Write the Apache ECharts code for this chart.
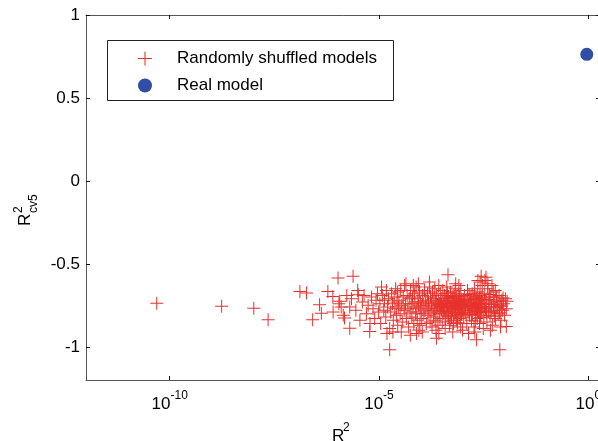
<!DOCTYPE html>
<html>
<head>
<meta charset="utf-8">
<script src="https://cdn.jsdelivr.net/npm/echarts@6/dist/echarts.min.js"></script>
<style>
html,body{margin:0;padding:0;background:#fff;}
#chart{width:598px;height:441px;}
</style>
</head>
<body>
<div id="chart"></div>
<script>
// ---- data ----
const seriesNames = ['Randomly shuffled models', 'Real model'];

// Randomly shuffled models: [R^2, R^2_cv5]
const shuffledModels = [
  [4.9e-11,-0.738],[1.74e-9,-0.756],[1.02e-8,-0.767],[2.24e-8,-0.837],
  [1.29e-7,-0.666],[1.86e-7,-0.676],[2.6e-7,-0.837],[3.8e-7,-0.746],[4.2e-7,-0.797],
  [6.0e-7,-0.666],[7.9e-7,-0.696],[1.05e-6,-0.585],[1.15e-6,-0.726],[1.5e-6,-0.827],
  [2.0e-6,-0.888],[2.4e-6,-0.575],[3.2e-6,-0.686],[6.0e-6,-0.908],[1.8e-5,-1.018],
  [8e-7,-0.79],[1.1e-6,-0.74],[1.4e-6,-0.81],[1.7e-6,-0.69],[1.25e-6,-0.76],[2.0e-6,-0.76],
  [2.2e-6,-0.71],[2.8e-6,-0.78],[3.1e-6,-0.66],[3.5e-6,-0.84],[4.0e-6,-0.73],[4.4e-6,-0.69],
  [5.0e-6,-0.80],[5.5e-6,-0.75],[6.1e-6,-0.86],[6.6e-6,-0.70],[7.2e-6,-0.77],[7.9e-6,-0.83],
  [8.5e-6,-0.72],[9.2e-6,-0.68],[9.8e-6,-0.79],
  [1.05e-5,-0.74],[1.1e-5,-0.86],[1.2e-5,-0.69],[1.3e-5,-0.78],[1.35e-5,-0.72],[1.45e-5,-0.82],
  [1.5e-5,-0.66],[1.6e-5,-0.76],[1.7e-5,-0.71],[1.8e-5,-0.89],[1.9e-5,-0.79],[2.0e-5,-0.68],
  [2.1e-5,-0.74],[2.2e-5,-0.84],[2.3e-5,-0.70],[2.4e-5,-0.77],[2.5e-5,-0.65],[2.6e-5,-0.81],
  [2.7e-5,-0.73],[2.8e-5,-0.87],[2.9e-5,-0.76],[1.15e-5,-0.64],[1.55e-5,-0.92],[2.15e-5,-0.91],
  [2.75e-5,-0.67],
  [3.0e-5,-0.72],[3.2e-5,-0.80],[3.3e-5,-0.66],[3.5e-5,-0.75],[3.6e-5,-0.85],[3.8e-5,-0.70],
  [4.0e-5,-0.78],[4.1e-5,-0.63],[4.3e-5,-0.74],[4.5e-5,-0.83],[4.7e-5,-0.69],[4.9e-5,-0.77],
  [5.1e-5,-0.88],[5.3e-5,-0.71],[5.5e-5,-0.79],[5.7e-5,-0.66],[5.9e-5,-0.74],[6.1e-5,-0.82],
  [6.3e-5,-0.70],[6.5e-5,-0.76],[6.8e-5,-0.86],[7.0e-5,-0.68],[7.2e-5,-0.73],[7.5e-5,-0.80],
  [7.7e-5,-0.64],[8.0e-5,-0.77],[8.2e-5,-0.84],[8.5e-5,-0.71],[8.8e-5,-0.75],[9.0e-5,-0.90],
  [9.3e-5,-0.67],[9.6e-5,-0.79],[9.9e-5,-0.73],[3.4e-5,-0.91],[4.4e-5,-0.62],[5.6e-5,-0.93],
  [6.6e-5,-0.63],[7.9e-5,-0.92],[8.7e-5,-0.62],[9.5e-5,-0.87],
  [1.02e-4,-0.76],[1.05e-4,-0.83],[1.1e-4,-0.69],[1.13e-4,-0.74],[1.18e-4,-0.80],[1.22e-4,-0.66],
  [1.26e-4,-0.78],[1.3e-4,-0.72],[1.35e-4,-0.86],[1.4e-4,-0.75],[1.44e-4,-0.68],[1.48e-4,-0.81],
  [1.52e-4,-0.73],[1.57e-4,-0.77],[1.62e-4,-0.64],[1.66e-4,-0.85],[1.7e-4,-0.70],[1.75e-4,-0.79],
  [1.8e-4,-0.74],[1.85e-4,-0.88],[1.9e-4,-0.67],[1.95e-4,-0.76],[2.0e-4,-0.82],[2.05e-4,-0.71],
  [2.1e-4,-0.78],[2.15e-4,-0.65],[2.2e-4,-0.84],[2.26e-4,-0.73],[2.32e-4,-0.77],[2.38e-4,-0.69],
  [2.44e-4,-0.80],[2.5e-4,-0.75],[2.56e-4,-0.87],[2.62e-4,-0.72],[2.68e-4,-0.63],[2.74e-4,-0.79],
  [2.8e-4,-0.74],[2.86e-4,-0.83],[2.92e-4,-0.68],[2.98e-4,-0.76],[1.08e-4,-0.91],[1.6e-4,-0.61],
  [2.3e-4,-0.90],[2.35e-4,-0.948],[2.7e-4,-0.92],
  [3.05e-4,-0.71],[3.15e-4,-0.78],[3.25e-4,-0.85],[3.35e-4,-0.66],[3.45e-4,-0.74],[3.55e-4,-0.80],
  [3.65e-4,-0.69],[3.75e-4,-0.76],[3.85e-4,-0.83],[3.95e-4,-0.72],[4.05e-4,-0.77],[4.15e-4,-0.64],
  [4.25e-4,-0.81],[4.35e-4,-0.74],[4.45e-4,-0.565],[4.55e-4,-0.70],[4.65e-4,-0.79],[4.8e-4,-0.87],
  [4.95e-4,-0.73],[5.1e-4,-0.67],[5.25e-4,-0.76],[5.4e-4,-0.82],[5.55e-4,-0.71],[5.7e-4,-0.78],
  [5.85e-4,-0.74],[6.0e-4,-0.86],[6.15e-4,-0.69],[6.3e-4,-0.75],[6.45e-4,-0.80],[6.6e-4,-0.65],
  [6.75e-4,-0.77],[6.9e-4,-0.72],[7.05e-4,-0.84],[7.2e-4,-0.70],[7.4e-4,-0.76],[7.6e-4,-0.79],
  [7.8e-4,-0.68],[8.0e-4,-0.74],[8.2e-4,-0.83],[8.4e-4,-0.71],[8.6e-4,-0.77],[8.8e-4,-0.88],
  [9.0e-4,-0.66],[9.2e-4,-0.75],[9.4e-4,-0.80],[9.6e-4,-0.73],[9.8e-4,-0.78],
  [3.3e-4,-0.76],[4.0e-4,-0.73],[4.7e-4,-0.75],[5.3e-4,-0.79],[6.2e-4,-0.77],[7.0e-4,-0.74],
  [7.7e-4,-0.81],[8.5e-4,-0.76],[9.3e-4,-0.72],[3.8e-4,-0.89],[5.8e-4,-0.91],[8.1e-4,-0.63],
  [6.8e-4,-0.62],[9.9e-4,-0.90],
  [3.1e-4,-0.745],[3.6e-4,-0.785],[4.2e-4,-0.705],[4.6e-4,-0.815],[5.0e-4,-0.755],[5.6e-4,-0.695],
  [6.1e-4,-0.735],[6.7e-4,-0.795],[7.3e-4,-0.725],[7.9e-4,-0.765],[8.3e-4,-0.695],[8.9e-4,-0.805],
  [9.5e-4,-0.745],[5.2e-4,-0.845],[7.5e-4,-0.855],[4.3e-4,-0.675],[6.4e-4,-0.705],[8.7e-4,-0.735],
  [1.02e-3,-0.75],[1.06e-3,-0.82],[1.1e-3,-0.69],[1.15e-3,-0.77],[1.2e-3,-0.73],[1.25e-3,-0.86],
  [1.3e-3,-0.66],[1.35e-3,-0.79],[1.4e-3,-0.74],[1.45e-3,-0.81],[1.5e-3,-0.70],[1.56e-3,-0.76],
  [1.62e-3,-0.84],[1.68e-3,-0.68],[1.74e-3,-0.78],[1.8e-3,-0.73],[1.86e-3,-0.88],[1.92e-3,-0.65],
  [1.98e-3,-0.75],[2.04e-3,-0.80],[2.1e-3,-0.71],[2.16e-3,-0.77],[2.22e-3,-0.83],[2.28e-3,-0.67],
  [2.34e-3,-0.74],[2.4e-3,-0.79],[2.46e-3,-0.72],[2.52e-3,-0.86],[2.58e-3,-0.69],[2.64e-3,-0.76],
  [2.7e-3,-0.81],[2.76e-3,-0.575],[2.82e-3,-0.73],[2.88e-3,-0.78],[2.94e-3,-0.63],[2.15e-3,-0.958],
  [1.12e-3,-0.76],[1.28e-3,-0.72],[1.48e-3,-0.78],[1.66e-3,-0.75],[1.84e-3,-0.71],[2.02e-3,-0.77],
  [2.2e-3,-0.74],[2.38e-3,-0.76],[2.56e-3,-0.79],[2.74e-3,-0.70],[1.38e-3,-0.92],[1.95e-3,-0.91],
  [2.6e-3,-0.61],[2.3e-3,-0.60],
  [1.04e-3,-0.715],[1.18e-3,-0.795],[1.33e-3,-0.755],[1.52e-3,-0.735],[1.7e-3,-0.805],[1.9e-3,-0.765],
  [2.07e-3,-0.695],[2.25e-3,-0.785],[2.43e-3,-0.745],[2.62e-3,-0.825],[2.8e-3,-0.765],[1.6e-3,-0.715],
  [2.0e-3,-0.845],[2.5e-3,-0.705],[1.42e-3,-0.685],[2.9e-3,-0.705],
  [3.05e-3,-0.74],[3.2e-3,-0.82],[3.35e-3,-0.68],[3.5e-3,-0.77],[3.65e-3,-0.72],[3.8e-3,-0.85],
  [3.95e-3,-0.65],[4.1e-3,-0.79],[4.3e-3,-0.74],[4.5e-3,-0.81],[4.7e-3,-0.70],[4.9e-3,-0.76],
  [5.1e-3,-0.87],[5.35e-3,-0.67],[5.6e-3,-0.78],[5.85e-3,-0.73],[6.1e-3,-0.83],[6.4e-3,-0.70],
  [6.7e-3,-0.76],[7.0e-3,-0.80],[7.4e-3,-0.69],[7.8e-3,-0.75],[8.2e-3,-0.84],[8.6e-3,-0.72],
  [9.0e-3,-0.78],[9.5e-3,-0.74],[1.0e-2,-0.81],[1.05e-2,-0.71],[1.1e-2,-0.77],[1.15e-2,-0.726],
  [1.1e-2,-0.877],[7.7e-3,-1.018],[3.4e-3,-0.60],[4.0e-3,-0.62],[4.6e-3,-0.90],[3.6e-3,-0.58],
  [6.0e-3,-0.66],[8.0e-3,-0.88],[5.0e-3,-0.63],[3.1e-3,-0.89],
  [3.3e-3,-0.755],[3.7e-3,-0.795],[4.2e-3,-0.715],[4.8e-3,-0.785],[5.4e-3,-0.745],[6.2e-3,-0.765],
  [6.9e-3,-0.725],[7.6e-3,-0.795],[8.4e-3,-0.755],[9.2e-3,-0.705],[4.4e-3,-0.685],[5.7e-3,-0.815]
];

// Real model: [R^2, R^2_cv5]
const realModel = [[0.92, 0.763]];

// tick labels
const xTickValues = [1e-10, 1e-5, 1];
const xTickExponents = ['-10', '-5', '0'];
const yTickValues = [-1, -0.5, 0, 0.5, 1];
const yTickLabels = ['-1', '-0.5', '0', '0.5', '1'];

// ---- chart ----
const FONT = '"Liberation Sans", Arial, Helvetica, sans-serif';
const chart = echarts.init(document.getElementById('chart'), null, {renderer: 'canvas'});

const plusPath = 'path://M0,6H13V7H0Z M6,0H7V13H6Z';

function xLabelFmt(v) {
  let idx = 0, best = Infinity;
  xTickValues.forEach((t, i) => {
    const d = Math.abs(Math.log10(t) - Math.log10(v));
    if (d < best) { best = d; idx = i; }
  });
  return '{b|10}{s|' + xTickExponents[idx] + '}';
}
function yLabelFmt(v) {
  let idx = 0, best = Infinity;
  yTickValues.forEach((t, i) => {
    const d = Math.abs(t - v);
    if (d < best) { best = d; idx = i; }
  });
  return yTickLabels[idx];
}

const axisLineStyle = {color: '#555', width: 1};
const tickStyle = {color: '#111', width: 1};

const xMin = 1e-12, xMax = Math.pow(10, 0.28);
const yMin = -1.2, yMax = 1;

const option = {
  animation: false,
  backgroundColor: '#fff',
  grid: {left: 86, top: 15, width: 514, height: 365, containLabel: false, outerBoundsMode: 'none'},
  xAxis: [
    {
      type: 'log', logBase: 10, min: xMin, max: xMax, position: 'bottom',
      axisLine: {show: true, onZero: false, lineStyle: axisLineStyle},
      axisTick: {show: true, inside: true, length: 4, lineStyle: tickStyle, customValues: xTickValues},
      minorTick: {show: false},
      splitLine: {show: false},
      axisLabel: {
        show: true, customValues: xTickValues, margin: 16,
        formatter: xLabelFmt,
        rich: {
          b: {fontSize: 17, fontFamily: FONT, color: '#000', verticalAlign: 'bottom', lineHeight: 17},
          s: {fontSize: 12, fontFamily: FONT, color: '#000', verticalAlign: 'bottom', lineHeight: 12, padding: [0, 0, 11, 0]}
        }
      }
    },
    {
      type: 'log', logBase: 10, min: xMin, max: xMax, position: 'top',
      axisLine: {show: true, onZero: false, lineStyle: axisLineStyle},
      axisTick: {show: true, inside: true, length: 4, lineStyle: tickStyle, customValues: xTickValues},
      minorTick: {show: false},
      splitLine: {show: false},
      axisLabel: {show: false}
    }
  ],
  yAxis: [
    {
      type: 'value', min: yMin, max: yMax, position: 'left',
      axisLine: {show: true, onZero: false, lineStyle: axisLineStyle},
      axisTick: {show: true, inside: true, length: 4, lineStyle: tickStyle, customValues: yTickValues},
      splitLine: {show: false},
      axisLabel: {show: true, customValues: yTickValues, formatter: yLabelFmt, margin: 6,
        fontSize: 17, fontFamily: FONT, color: '#000'}
    },
    {
      type: 'value', min: yMin, max: yMax, position: 'right',
      axisLine: {show: true, onZero: false, lineStyle: axisLineStyle},
      axisTick: {show: true, inside: true, length: 4, lineStyle: tickStyle, customValues: yTickValues},
      splitLine: {show: false},
      axisLabel: {show: false}
    }
  ],
  legend: {
    show: true, orient: 'vertical', left: 138, top: 50,
    itemWidth: 14, itemHeight: 14, itemGap: 10, padding: 0,
    data: seriesNames,
    textStyle: {fontSize: 17, fontFamily: FONT, color: '#000', padding: [0, 0, 0, 20]},
    selectedMode: false
  },
  graphic: [
    {type: 'rect', shape: {x: 107.5, y: 40.5, width: 286, height: 60}, style: {fill: 'none', stroke: '#222', lineWidth: 1}, z: 10},
    // x axis name R^2
    {type: 'text', x: 332, y: 436, style: {text: 'R', font: '17px ' + FONT, fill: '#000', verticalAlign: 'middle', align: 'left'}},
    {type: 'text', x: 343, y: 428, style: {text: '2', font: '12px ' + FONT, fill: '#000', verticalAlign: 'middle', align: 'left'}},
    // y axis name R^2_cv5 (rotated)
    {
      type: 'group', x: 25, y: 226, rotation: Math.PI / 2,
      children: [
        {type: 'text', x: 0, y: 0, style: {text: 'R', font: '17px ' + FONT, fill: '#000', verticalAlign: 'middle', align: 'left'}},
        {type: 'text', x: 13, y: -6, style: {text: '2', font: '12px ' + FONT, fill: '#000', verticalAlign: 'middle', align: 'left'}},
        {type: 'text', x: 13, y: 9, style: {text: 'cv5', font: '12px ' + FONT, fill: '#000', verticalAlign: 'middle', align: 'left'}}
      ]
    }
  ],
  series: [
    {
      name: seriesNames[0], type: 'scatter', xAxisIndex: 0, yAxisIndex: 0,
      symbol: plusPath, symbolSize: 13,
      itemStyle: {color: '#e8322d', opacity: 1},
      data: shuffledModels, z: 2
    },
    {
      name: seriesNames[1], type: 'scatter', xAxisIndex: 0, yAxisIndex: 0,
      symbol: 'circle', symbolSize: 13,
      itemStyle: {color: '#2f4fa7', opacity: 1},
      data: realModel, z: 3
    }
  ]
};
chart.setOption(option);
</script>
</body>
</html>
